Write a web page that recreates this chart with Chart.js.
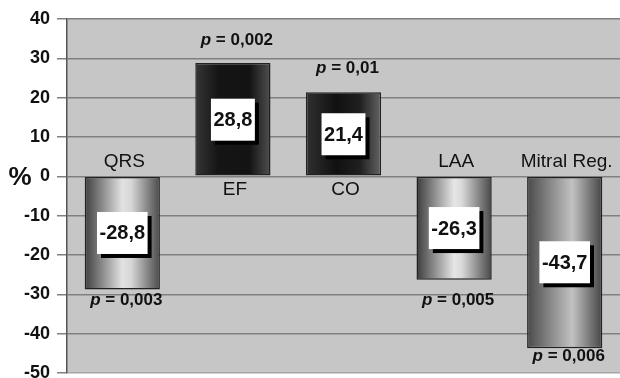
<!DOCTYPE html>
<html>
<head>
<meta charset="utf-8">
<script src="https://cdn.jsdelivr.net/npm/chart.js@4/dist/chart.umd.min.js"></script>
<style>
  html, body { margin: 0; padding: 0; background: #fff; }
  #wrap { width: 620px; height: 378px; }
</style>
</head>
<body>
<div id="wrap"><canvas id="c" width="620" height="378"></canvas></div>
<script>
// Percentage change per parameter
const categories = ['QRS', 'EF', 'CO', 'LAA', 'Mitral Reg.'];
const changePct  = [-28.8, 28.8, 21.4, -26.3, -43.7];
const pValues    = ['0,003', '0,002', '0,01', '0,005', '0,006'];
const yMin = -50, yMax = 40, yStep = 10;

// Layout: distance (px) between the bar end and its p label
const pLabelGap = [11, 23, 24, 21, 8];

// Horizontal shading of each bar (cylinder look)
const barShades = [
  [[0, '#3e3e3e'], [0.5, '#e2e2e2'], [0.62, '#d6d6d6'], [1, '#4a4a4a']],
  [[0, '#363636'], [0.3, '#151515'], [0.72, '#131313'], [1, '#505050']],
  [[0, '#303030'], [0.4, '#111111'], [0.72, '#202020'], [1, '#646464']],
  [[0, '#3c3c3c'], [0.5, '#e6e6e6'], [0.6, '#dadada'], [1, '#484848']],
  [[0, '#4a4a4a'], [0.6, '#c2c2c2'], [1, '#454545']]
];

const FONT = '"Liberation Sans", Arial, sans-serif';
const fmt = v => v.toFixed(1).replace('.', ',');

const plotBackground = {
  id: 'plotBackground',
  beforeDraw(chart) {
    const { ctx, chartArea: a } = chart;
    ctx.save();
    ctx.fillStyle = '#c6c6c6';
    ctx.fillRect(a.left, a.top, a.right - a.left, a.bottom - a.top);
    ctx.restore();
  }
};

// Each bar gets its own horizontal gradient, built from its laid-out position
const barShading = {
  id: 'barShading',
  beforeDatasetsDraw(chart) {
    const { ctx } = chart;
    chart.getDatasetMeta(0).data.forEach((el, i) => {
      const g = ctx.createLinearGradient(el.x - el.width / 2, 0, el.x + el.width / 2, 0);
      barShades[i].forEach(([s, c]) => g.addColorStop(s, c));
      el.options = Object.assign({}, el.options, { backgroundColor: g });
    });
  }
};

const barAnnotations = {
  id: 'barAnnotations',
  afterDatasetsDraw(chart) {
    const { ctx } = chart;
    const y = chart.scales.y;
    const y0 = y.getPixelForValue(0);
    ctx.save();
    chart.getDatasetMeta(0).data.forEach((el, i) => {
      const v = changePct[i];
      const yEnd = y.getPixelForValue(v);
      const cx = el.x;

      // value box with drop shadow
      ctx.font = 'bold 20px ' + FONT;
      const txt = fmt(v);
      const w = ctx.measureText(txt).width + 5;
      const h = 42;
      const cy = (y0 + yEnd) / 2;
      ctx.fillStyle = '#000';
      ctx.fillRect(cx - w / 2 + 4, cy - h / 2 + 4, w, h);
      ctx.fillStyle = '#fff';
      ctx.fillRect(cx - w / 2, cy - h / 2, w, h);
      ctx.fillStyle = '#111';
      ctx.textAlign = 'center';
      ctx.textBaseline = 'middle';
      ctx.fillText(txt, cx, cy + 1);

      // category name next to the zero line
      ctx.font = '19px ' + FONT;
      ctx.fillStyle = '#111';
      const ly = v < 0 ? y0 - 15 : y0 + 13;
      ctx.fillText(categories[i], cx + 2, ly);

      // p value beyond the bar end
      const py = v < 0 ? yEnd + pLabelGap[i] : yEnd - pLabelGap[i];
      ctx.font = 'italic bold 17px ' + FONT;
      const pw = ctx.measureText('p').width;
      ctx.font = 'bold 17px ' + FONT;
      const rest = ' = ' + pValues[i];
      const rw = ctx.measureText(rest).width;
      const startX = cx + 4 - (pw + rw) / 2;
      ctx.textAlign = 'left';
      ctx.font = 'italic bold 17px ' + FONT;
      ctx.fillText('p', startX, py);
      ctx.font = 'bold 17px ' + FONT;
      ctx.fillText(rest, startX + pw, py);
    });

    // axis unit
    ctx.font = 'bold 26px ' + FONT;
    ctx.textAlign = 'center';
    ctx.textBaseline = 'middle';
    ctx.fillStyle = '#111';
    ctx.fillText('%', 20, y0 + 1);
    ctx.restore();
  }
};

new Chart(document.getElementById('c'), {
  type: 'bar',
  data: {
    labels: categories,
    datasets: [{
      data: changePct,
      backgroundColor: () => '#888',
      borderColor: '#222',
      borderWidth: 1.5,
      borderSkipped: false,
      barPercentage: 0.68,
      categoryPercentage: 1
    }]
  },
  options: {
    responsive: false,
    animation: false,
    devicePixelRatio: 1,
    layout: { padding: { top: 19, bottom: 5, left: 0, right: 0 } },
    plugins: { legend: { display: false }, tooltip: { enabled: false } },
    scales: {
      x: { display: false, offset: true, grid: { display: false } },
      y: {
        min: yMin,
        max: yMax,
        ticks: {
          stepSize: yStep,
          padding: 7,
          color: '#111',
          font: { family: FONT, size: 18, weight: 'bold' },
          callback: v => String(v)
        },
        grid: {
          color: c => (c.tick && c.tick.value === yMin ? '#a6a6a6' : '#808080'),
          lineWidth: 1.5,
          tickLength: 10,
          tickColor: '#808080'
        },
        border: { display: true, color: '#555', width: 1.5 },
        afterFit(s) {
          s.width = 67;
          s.paddingTop = 0;
          s.paddingBottom = 0;
        }
      }
    }
  },
  plugins: [plotBackground, barShading, barAnnotations]
});
</script>
</body>
</html>
